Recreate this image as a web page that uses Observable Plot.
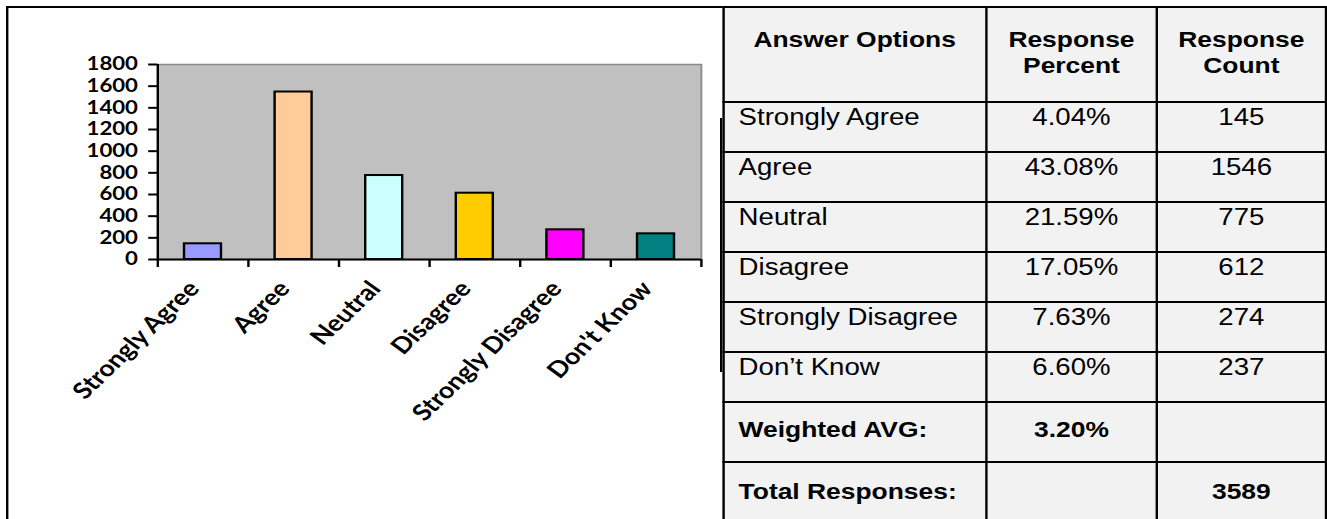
<!DOCTYPE html>
<html>
<head>
<meta charset="utf-8">
<script src="https://cdn.jsdelivr.net/npm/d3@7"></script>
<script src="https://cdn.jsdelivr.net/npm/@observablehq/plot@0.6"></script>
<style>
html, body { margin: 0; padding: 0; background: #fff; overflow: hidden; width: 1327px; height: 519px; }
#page { position: relative; width: 1106px; height: 519px; transform: scaleX(1.2); transform-origin: 0 0; }
#frameTop { position: absolute; left: 5px; top: 6px; width: 1120px; height: 2px; background: #000; }
#frameLeft { position: absolute; left: 5px; top: 6px; width: 2px; height: 520px; background: #000; }
#seam { position: absolute; left: 599.5px; top: 118px; width: 2px; height: 254px; background: #000; }
#chart { position: absolute; left: 0; top: 0; }
#tbl { position: absolute; left: 601.5px; top: 6px; border-collapse: collapse; table-layout: fixed;
       font-family: "Liberation Sans", Arial, sans-serif; color: #000; background: #f2f2f2; }
#tbl td { border: 2px solid #000; padding: 0; vertical-align: top; overflow: hidden; white-space: normal; }
#tbl tr.head td { height: 74px; padding-top: 19px; line-height: 26px; font-size: 22px; font-weight: bold; text-align: center; }
#tbl tr.body td { height: 46px; padding-top: 2px; line-height: 24px; font-size: 23px; text-align: center; white-space: nowrap; }
#tbl tr.sum1 td { height: 43px; padding-top: 15px; line-height: 24px; font-size: 22px; font-weight: bold; text-align: center; white-space: nowrap; }
#tbl tr.sum2 td { height: 41px; padding-top: 17px; line-height: 24px; font-size: 22px; font-weight: bold; text-align: center; white-space: nowrap; }
#tbl tr.body td:first-child, #tbl tr.sum1 td:first-child, #tbl tr.sum2 td:first-child { text-align: left; padding-left: 12px; }
</style>
</head>
<body>
<div id="page">
  <div id="chart"></div>
  <div id="seam"></div>
  <div id="frameTop"></div>
  <div id="frameLeft"></div>
</div>
<script>
// ---- data ----
const categories = ["Strongly Agree", "Agree", "Neutral", "Disagree", "Strongly Disagree", "Don't Know"];
const counts = [145, 1546, 775, 612, 274, 237];
const barColors = ["#9999ff", "#ffcc99", "#ccffff", "#ffcc00", "#ff00ff", "#008080"];
const yTicks = [0, 200, 400, 600, 800, 1000, 1200, 1400, 1600, 1800];

const tableHeaders = ["Answer Options", "Response Percent", "Response Count"];
const tableOptions = ["Strongly Agree", "Agree", "Neutral", "Disagree", "Strongly Disagree", "Don\u2019t Know"];
const tablePercents = ["4.04%", "43.08%", "21.59%", "17.05%", "7.63%", "6.60%"];
const tableCounts = ["145", "1546", "775", "612", "274", "237"];
const weightedLabel = "Weighted AVG:";
const weightedValue = "3.20%";
const totalLabel = "Total Responses:";
const totalValue = "3589";

// ---- chart ----
const bars = categories.map((c, i) => ({category: c, index: i, count: counts[i]}));
const boundaries = d3.range(categories.length + 1);
const barHalf = 0.204;

const chart = Plot.plot({
  width: 602,
  height: 519,
  marginLeft: 131,
  marginRight: 18,
  marginTop: 64,
  marginBottom: 260,
  style: {background: "transparent", color: "#000", overflow: "visible"},
  x: {domain: [0, categories.length], axis: null},
  y: {domain: [0, 1800], axis: null},
  color: {domain: categories, range: barColors},
  marks: [
    Plot.frame({fill: "#c0c0c0", stroke: "#8a8a8a", strokeWidth: 1.5}),
    Plot.rectY(bars, {
      x1: d => d.index + 0.5 - barHalf,
      x2: d => d.index + 0.5 + barHalf,
      y1: 0, y2: "count",
      fill: "category", stroke: "#000", strokeWidth: 2
    }),
    Plot.ruleX([0], {stroke: "#000", strokeWidth: 2}),
    Plot.ruleY([0], {stroke: "#000", strokeWidth: 2}),
    Plot.axisY({
      ticks: yTicks, tickSize: 7.5, tickPadding: 9, tickFormat: d => String(d),
      stroke: "#000", strokeWidth: 2,
      fill: "#000", fontFamily: "Lato", fontWeight: "bold", fontSize: 18.5, label: null
    }),
    Plot.axisX({
      ticks: boundaries, tickSize: 8, tickFormat: () => "", stroke: "#000", strokeWidth: 2, label: null
    }),
    Plot.text(bars, {
      x: d => d.index + 0.5, y: 0, text: "category",
      rotate: -49, textAnchor: "end", lineAnchor: "bottom",
      dx: -2, dy: 30,
      fill: "#000", fontFamily: "Lato", fontWeight: "bold", fontSize: 22.5
    })
  ]
});
document.getElementById("chart").appendChild(chart);

// ---- table ----
const tbl = document.createElement("table");
tbl.id = "tbl";
const cg = document.createElement("colgroup");
[220, 143, 142].forEach(w => { const c = document.createElement("col"); c.style.width = w + "px"; cg.appendChild(c); });
tbl.appendChild(cg);
function addRow(cls, cells) {
  const tr = document.createElement("tr");
  tr.className = cls;
  cells.forEach(t => { const td = document.createElement("td"); td.textContent = t; tr.appendChild(td); });
  tbl.appendChild(tr);
}
addRow("head", tableHeaders);
tableOptions.forEach((o, i) => addRow("body", [o, tablePercents[i], tableCounts[i]]));
addRow("sum1", [weightedLabel, weightedValue, ""]);
addRow("sum2", [totalLabel, "", totalValue]);
document.getElementById("page").appendChild(tbl);
</script>
</body>
</html>
